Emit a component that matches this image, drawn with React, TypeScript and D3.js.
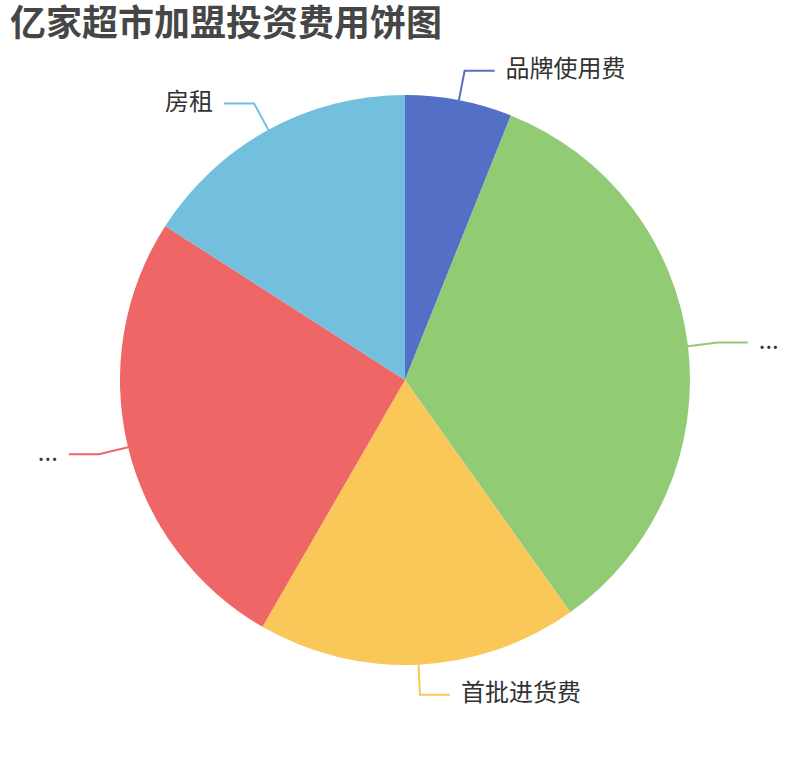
import React from "react";
import * as d3 from "d3";

const TITLE = "亿家超市加盟投资费用饼图";
const categories = ["品牌使用费", "...", "首批进货费", "...", "房租"];
const values = [4, 22.5, 12, 17, 10.5];
const colors = ["#5470c6", "#91cc75", "#fac858", "#ee6666", "#73c0de"];

const W = 810;
const H = 760;
const CX = 405;
const CY = 380;
const R = 285;
const LEN1 = 30;
const LEN2 = 30;
const FONT = '"Noto Sans CJK SC", "Noto Sans", sans-serif';

export default function App() {
  const data = categories.map((c, i) => ({ name: c, value: values[i], color: colors[i] }));
  const pie = d3.pie<any>().value((d: any) => d.value).sort(null);
  const arcs = pie(data);
  const arcGen = d3.arc<any>().innerRadius(0).outerRadius(R);

  return (
    <svg
      width={W}
      height={H}
      style={{ position: "absolute", left: 0, top: 0, background: "#fff" }}
    >
      <text
        x={10}
        y={36}
        fontFamily={FONT}
        fontWeight="bold"
        fontSize={36}
        fill="#464646"
      >
        {TITLE}
      </text>
      <g transform={`translate(${CX},${CY})`}>
        {arcs.map((a, i) => (
          <path key={i} d={arcGen(a) as string} fill={a.data.color} />
        ))}
        {arcs.map((a, i) => {
          const mid = (a.startAngle + a.endAngle) / 2;
          const sx = Math.sin(mid);
          const sy = -Math.cos(mid);
          const p0 = [R * sx, R * sy];
          const p1 = [(R + LEN1) * sx, (R + LEN1) * sy];
          const right = sx >= 0;
          const p2 = [p1[0] + (right ? LEN2 : -LEN2), p1[1]];
          const tx = p2[0] + (right ? 11 : -11);
          return (
            <g key={"l" + i}>
              <polyline
                points={[p0, p1, p2].map((p) => p.join(",")).join(" ")}
                fill="none"
                stroke={a.data.color}
                strokeWidth={2}
              />
              <text
                x={tx}
                y={p2[1]}
                dominantBaseline="middle"
                textAnchor={right ? "start" : "end"}
                fontFamily={FONT}
                fontSize={24}
                fill="#333"
              >
                {a.data.name}
              </text>
            </g>
          );
        })}
      </g>
    </svg>
  );
}
